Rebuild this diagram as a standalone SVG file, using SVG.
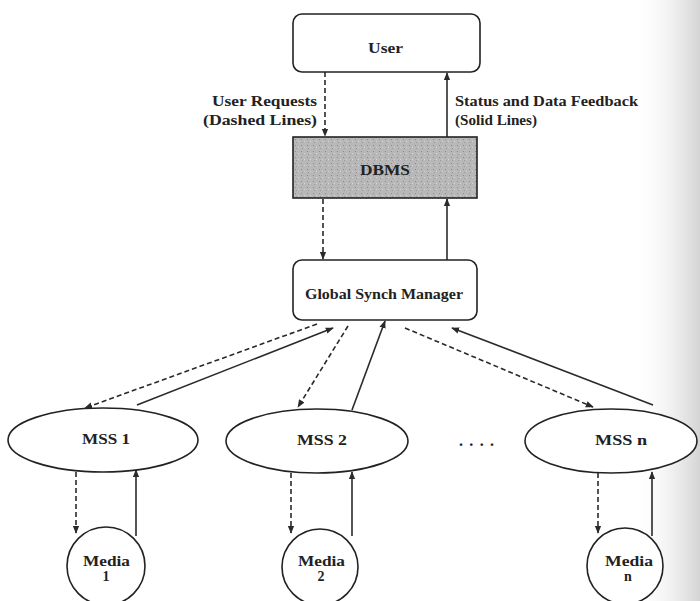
<svg xmlns="http://www.w3.org/2000/svg" width="700" height="601" viewBox="0 0 700 601">
<defs>
<style>
.box{fill:#fff;stroke:#222;stroke-width:1.6}
.db{stroke:#222;stroke-width:1.6}
.t{font-family:"Liberation Serif",serif;font-size:14px;font-weight:bold;fill:#222}
.c{stroke:#2a2a2a;stroke-width:1.6;fill:none}
.d{stroke-dasharray:5,3}
</style>
<marker id="ah" viewBox="0 0 10 10" refX="9" refY="5" markerWidth="8" markerHeight="8" markerUnits="userSpaceOnUse" orient="auto">
<path d="M0,1 L10,5 L0,9 z" fill="#2a2a2a"/>
</marker>
<pattern id="spk" width="6" height="6" patternUnits="userSpaceOnUse">
<rect width="6" height="6" fill="#b8b8b8"/>
<rect x="1" y="1" width="1" height="1" fill="#8a8a8a"/>
<rect x="4" y="3" width="1" height="1" fill="#d6d6d6"/>
<rect x="2" y="4" width="1" height="1" fill="#9a9a9a"/>
</pattern>
<linearGradient id="edge" x1="0" y1="0" x2="1" y2="0">
<stop offset="0" stop-color="#fff" stop-opacity="0"/>
<stop offset="1" stop-color="#d4d4d4"/>
</linearGradient>
</defs>
<rect width="700" height="601" fill="#fff"/>
<rect x="630" y="0" width="70" height="601" fill="url(#edge)"/>

<g id="connectors">
<line class="c d" x1="325" y1="72" x2="325" y2="136" marker-end="url(#ah)"/>
<line class="c" x1="447" y1="137" x2="447" y2="73" marker-end="url(#ah)"/>
<line class="c d" x1="323" y1="199" x2="323" y2="259" marker-end="url(#ah)"/>
<line class="c" x1="447" y1="260" x2="447" y2="199" marker-end="url(#ah)"/>
<line class="c d" x1="317" y1="324" x2="85" y2="408" marker-end="url(#ah)"/>
<line class="c" x1="137" y1="405" x2="333" y2="328" marker-end="url(#ah)"/>
<line class="c d" x1="348" y1="326" x2="298" y2="407" marker-end="url(#ah)"/>
<line class="c" x1="352" y1="410" x2="385" y2="321" marker-end="url(#ah)"/>
<line class="c d" x1="405" y1="328" x2="593" y2="407" marker-end="url(#ah)"/>
<line class="c" x1="653" y1="405" x2="452" y2="328" marker-end="url(#ah)"/>
<line class="c d" x1="76" y1="472" x2="76" y2="533" marker-end="url(#ah)"/>
<line class="c" x1="136" y1="536" x2="136" y2="470" marker-end="url(#ah)"/>
<line class="c d" x1="291" y1="473" x2="291" y2="533" marker-end="url(#ah)"/>
<line class="c" x1="352" y1="536" x2="352" y2="472" marker-end="url(#ah)"/>
<line class="c d" x1="598" y1="473" x2="598" y2="533" marker-end="url(#ah)"/>
<line class="c" x1="652" y1="536" x2="652" y2="472" marker-end="url(#ah)"/>
</g>

<g id="labels">
<text class="t" x="212" y="106" textLength="105" lengthAdjust="spacingAndGlyphs">User Requests</text>
<text class="t" x="203" y="125" textLength="114" lengthAdjust="spacingAndGlyphs">(Dashed Lines)</text>
<text class="t" x="455" y="106" textLength="183" lengthAdjust="spacingAndGlyphs">Status and Data Feedback</text>
<text class="t" x="455" y="125" textLength="82" lengthAdjust="spacingAndGlyphs">(Solid Lines)</text>
</g>

<g id="user">
<rect class="box" x="293" y="14" width="187" height="58" rx="9"/>
<text class="t" x="368" y="53" textLength="35" lengthAdjust="spacingAndGlyphs">User</text>
</g>
<g id="dbms">
<rect class="db" x="293" y="137" width="184" height="61" fill="url(#spk)"/>
<text class="t" x="360" y="175" textLength="50" lengthAdjust="spacingAndGlyphs">DBMS</text>
</g>
<g id="gsm">
<rect class="box" x="293" y="260" width="184" height="60" rx="9"/>
<text class="t" x="305" y="299" textLength="158" lengthAdjust="spacingAndGlyphs">Global Synch Manager</text>
</g>
<g id="mss1">
<ellipse class="box" cx="103" cy="440" rx="95" ry="32"/>
<text class="t" x="82" y="444" textLength="48" lengthAdjust="spacingAndGlyphs">MSS 1</text>
</g>
<g id="mss2">
<ellipse class="box" cx="317" cy="441" rx="91" ry="32"/>
<text class="t" x="297" y="445" textLength="50" lengthAdjust="spacingAndGlyphs">MSS 2</text>
</g>
<g id="dots">
<text class="t" x="459" y="446" textLength="35" lengthAdjust="spacing" style="font-size:16px">....</text>
</g>
<g id="mssn">
<ellipse class="box" cx="611" cy="441" rx="86" ry="32"/>
<text class="t" x="595" y="445" textLength="52" lengthAdjust="spacingAndGlyphs">MSS n</text>
</g>
<g id="media1">
<circle class="box" cx="106" cy="566" r="39"/>
<text class="t" x="83" y="566" textLength="47" lengthAdjust="spacingAndGlyphs">Media</text>
<text class="t" x="106" y="581" text-anchor="middle">1</text>
</g>
<g id="media2">
<circle class="box" cx="320" cy="567" r="38"/>
<text class="t" x="298" y="566" textLength="47" lengthAdjust="spacingAndGlyphs">Media</text>
<text class="t" x="321" y="581" text-anchor="middle">2</text>
</g>
<g id="median">
<circle class="box" cx="625" cy="566" r="38"/>
<text class="t" x="605" y="566" textLength="48" lengthAdjust="spacingAndGlyphs">Media</text>
<text class="t" x="628" y="581" text-anchor="middle">n</text>
</g>
</svg>
